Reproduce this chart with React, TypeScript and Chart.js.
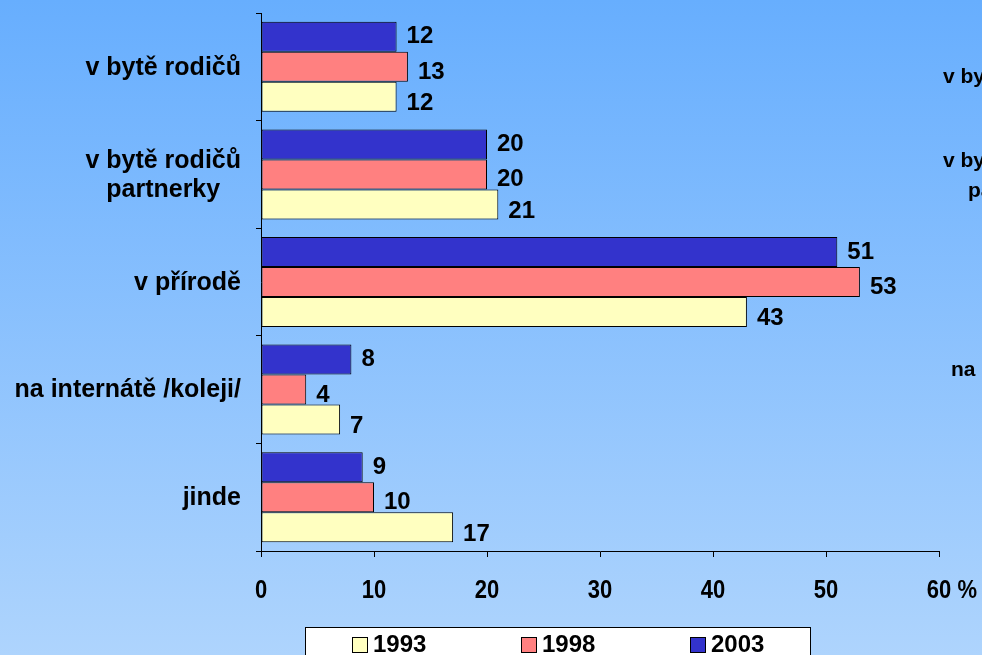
import React, { useEffect, useRef } from "react";
import { Chart, registerables } from "chart.js";
Chart.register(...registerables);

// ---- data ----
const categories: string[][] = [
  ["v bytě rodičů"],
  ["v bytě rodičů", "partnerky"],
  ["v přírodě"],
  ["na internátě /koleji/"],
  ["jinde"],
];
const years = ["1993", "1998", "2003"];
const values1993 = [12, 21, 43, 7, 17];
const values1998 = [13, 20, 53, 4, 10];
const values2003 = [12, 20, 51, 8, 9];
const axisMin = 0;
const axisMax = 60;
const axisStep = 10;
const unit = "%";
// clipped text from a neighbouring chart visible at the right edge
const sideTexts: string[][] = [["v bytě rodičů"], ["v bytě rodičů", "partnerky"], ["na internátě /koleji/"]];

// ---- styles ----
const colors: Record<string, string> = { "1993": "#FFFFC0", "1998": "#FF8080", "2003": "#3333CC" };
const FONT = '"Liberation Sans", Arial, sans-serif';
const labelShift: Record<string, number> = { "2003": 6.5, "1998": 12, "1993": 13.5 };
const sideLayout = [
  { xs: [943], ys: [77] },
  { xs: [943, 968], ys: [161, 191] },
  { xs: [951], ys: [370] },
];

export default function App() {
  const ref = useRef<HTMLCanvasElement>(null);
  useEffect(() => {
    document.body.style.margin = "0";
    const order = ["2003", "1998", "1993"];
    const valMap: Record<string, number[]> = { "1993": values1993, "1998": values1998, "2003": values2003 };

    const bgPlugin = {
      id: "bg",
      beforeDraw(chart: any) {
        const { ctx, width, height } = chart;
        const g = ctx.createLinearGradient(0, 0, 0, height);
        g.addColorStop(0, "#67AEFE");
        g.addColorStop(1, "#AED4FD");
        ctx.save();
        ctx.fillStyle = g;
        ctx.fillRect(0, 0, width, height);
        ctx.restore();
      },
    };

    const drawPlugin = {
      id: "texts",
      afterDraw(chart: any) {
        const { ctx } = chart;
        const ys = chart.scales.y;
        const xs = chart.scales.x;
        ctx.save();
        ctx.fillStyle = "#000";
        // category labels
        ctx.font = `bold 25px ${FONT}`;
        ctx.textBaseline = "middle";
        ctx.textAlign = "center";
        const lh = 29;
        categories.forEach((lines, i) => {
          const cy = ys.getPixelForTick(i);
          const maxW = Math.max(...lines.map((l) => ctx.measureText(l).width));
          const cx = 241 - maxW / 2;
          lines.forEach((l, j) => {
            const y = cy + (j - (lines.length - 1) / 2) * lh;
            ctx.fillText(l, cx, y + 1);
          });
        });
        // x tick labels
        ctx.textBaseline = "alphabetic";
        xs.ticks.forEach((t: any, i: number) => {
          const x = xs.getPixelForValue(t.value);
          const s = String(t.value);
          ctx.save();
          ctx.translate(x, 598);
          ctx.scale(0.88, 1);
          ctx.font = `bold 25px ${FONT}`;
          ctx.textAlign = "center";
          ctx.fillText(s, 0, 0);
          if (i === xs.ticks.length - 1) {
            const w = ctx.measureText(s).width;
            ctx.textAlign = "left";
            ctx.fillText(unit, w / 2 + 7, 0);
          }
          ctx.restore();
        });
        // value labels
        ctx.font = `bold 24px ${FONT}`;
        ctx.textAlign = "left";
        chart.data.datasets.forEach((ds: any, di: number) => {
          const meta = chart.getDatasetMeta(di);
          meta.data.forEach((el: any, k: number) => {
            ctx.fillText(String(ds.data[k]), el.x + 10, el.y + labelShift[ds.label]);
          });
        });
        // legend
        ctx.fillStyle = "#FFFFFF";
        ctx.strokeStyle = "#000";
        ctx.lineWidth = 1;
        ctx.fillRect(305, 627, 505, 60);
        ctx.strokeRect(305.5, 627.5, 505, 60);
        ctx.font = `bold 24px ${FONT}`;
        years.forEach((yr, i) => {
          const x0 = 352 + i * 169;
          ctx.fillStyle = colors[yr];
          ctx.fillRect(x0, 637, 15, 15);
          ctx.strokeRect(x0 + 0.5, 637.5, 15, 15);
          ctx.fillStyle = "#000";
          ctx.fillText(yr, x0 + 21, 652);
        });
        // side texts (clipped by the page edge)
        ctx.font = `bold 21px ${FONT}`;
        ctx.textAlign = "left";
        ctx.textBaseline = "middle";
        sideTexts.forEach((lines, i) => {
          lines.forEach((l, j) => {
            ctx.fillText(l, sideLayout[i].xs[j], sideLayout[i].ys[j]);
          });
        });
        ctx.restore();
      },
    };

    const chart = new Chart(ref.current!, {
      type: "bar",
      data: {
        labels: categories,
        datasets: order.map((yr) => ({
          label: yr,
          data: valMap[yr],
          backgroundColor: colors[yr],
          borderColor: "#000",
          borderWidth: 1,
          borderSkipped: false,
          barPercentage: 1,
          categoryPercentage: 0.836,
        })),
      },
      options: {
        indexAxis: "y",
        responsive: false,
        animation: false,
        layout: { padding: { top: 13, right: 43, left: 0, bottom: 0 } },
        plugins: { legend: { display: false }, tooltip: { enabled: false }, title: { display: false } },
        scales: {
          x: {
            type: "linear",
            min: axisMin,
            max: axisMax,
            ticks: { stepSize: axisStep, display: false },
            grid: { drawOnChartArea: false, drawTicks: true, tickLength: 6, color: "#000", lineWidth: 1 },
            border: { display: true, color: "#000", width: 1 },
            afterFit: (s: any) => { s.height = 104; },
          },
          y: {
            type: "category",
            ticks: { display: false },
            grid: { offset: true, drawOnChartArea: false, drawTicks: true, tickLength: 5, color: "#000", lineWidth: 1 },
            border: { display: true, color: "#000", width: 1 },
            afterFit: (s: any) => { s.width = 261; },
          },
        },
      } as any,
      plugins: [bgPlugin, drawPlugin],
    });
    return () => chart.destroy();
  }, []);
  return (
    <div style={{ position: "absolute", left: 0, top: 0, width: 982, height: 655, overflow: "hidden" }}>
      <canvas ref={ref} width={982} height={655} style={{ display: "block" }} />
    </div>
  );
}
